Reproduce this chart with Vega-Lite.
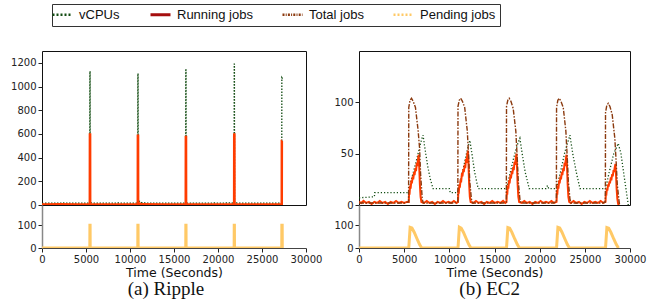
{
  "$schema": "https://vega.github.io/schema/vega-lite/v6.json",
  "padding": {"left": 10, "top": 3, "right": 1, "bottom": 1},
  "autosize": {"type": "pad"},
  "background": "white",
  "config": {
    "view": {"stroke": null},
    "axis": {"labelFont": "DejaVu Sans", "labelFontSize": 10, "labelColor": "#222", "titleFont": "DejaVu Sans", "titleFontSize": 12.5, "titleFontWeight": "normal", "titleColor": "#111", "tickColor": "#222", "grid": false, "domainColor": "#222", "labelFlush": false, "labelOverlap": false, "tickSize": 4, "labelPadding": 2, "format": "d"}
  },
  "datasets": {
    "a": [
      {"s":"vCPUs","t":0,"v":14},{"s":"vCPUs","t":800,"v":16},{"s":"vCPUs","t":1600,"v":15},{"s":"vCPUs","t":2400,"v":17},{"s":"vCPUs","t":3200,"v":15},{"s":"vCPUs","t":4000,"v":16},{"s":"vCPUs","t":4800,"v":15},{"s":"vCPUs","t":5430,"v":16},
      {"s":"vCPUs","t":5445,"v":1130},{"s":"vCPUs","t":5465,"v":1130},{"s":"vCPUs","t":5480,"v":18},{"s":"vCPUs","t":6200,"v":15},{"s":"vCPUs","t":7000,"v":16},{"s":"vCPUs","t":7800,"v":15},{"s":"vCPUs","t":8600,"v":17},{"s":"vCPUs","t":9400,"v":16},{"s":"vCPUs","t":10200,"v":15},{"s":"vCPUs","t":10880,"v":16},
      {"s":"vCPUs","t":10895,"v":1110},{"s":"vCPUs","t":10915,"v":1110},{"s":"vCPUs","t":10930,"v":25},{"s":"vCPUs","t":11100,"v":32},{"s":"vCPUs","t":11300,"v":20},{"s":"vCPUs","t":12000,"v":16},{"s":"vCPUs","t":12800,"v":15},{"s":"vCPUs","t":13600,"v":16},{"s":"vCPUs","t":14400,"v":15},{"s":"vCPUs","t":15200,"v":16},{"s":"vCPUs","t":16000,"v":15},{"s":"vCPUs","t":16330,"v":15},
      {"s":"vCPUs","t":16345,"v":1140},{"s":"vCPUs","t":16365,"v":1140},{"s":"vCPUs","t":16380,"v":15},{"s":"vCPUs","t":17200,"v":16},{"s":"vCPUs","t":18000,"v":15},{"s":"vCPUs","t":18800,"v":16},{"s":"vCPUs","t":19600,"v":17},{"s":"vCPUs","t":20400,"v":15},{"s":"vCPUs","t":21200,"v":18},{"s":"vCPUs","t":21830,"v":16},
      {"s":"vCPUs","t":21845,"v":1190},{"s":"vCPUs","t":21865,"v":1190},{"s":"vCPUs","t":21880,"v":18},{"s":"vCPUs","t":22600,"v":15},{"s":"vCPUs","t":23400,"v":16},{"s":"vCPUs","t":24200,"v":15},{"s":"vCPUs","t":25000,"v":16},{"s":"vCPUs","t":25800,"v":15},{"s":"vCPUs","t":26600,"v":16},{"s":"vCPUs","t":27240,"v":15},
      {"s":"vCPUs","t":27255,"v":1075},{"s":"vCPUs","t":27300,"v":1070},{"s":"vCPUs","t":27310,"v":1060},
      {"s":"Running jobs","t":0,"v":5},{"s":"Running jobs","t":2000,"v":6},{"s":"Running jobs","t":4000,"v":5},{"s":"Running jobs","t":5435,"v":5},{"s":"Running jobs","t":5445,"v":595},{"s":"Running jobs","t":5465,"v":595},{"s":"Running jobs","t":5475,"v":5},
      {"s":"Running jobs","t":8000,"v":5},{"s":"Running jobs","t":10885,"v":5},{"s":"Running jobs","t":10895,"v":585},{"s":"Running jobs","t":10915,"v":585},{"s":"Running jobs","t":10925,"v":9},{"s":"Running jobs","t":11100,"v":12},{"s":"Running jobs","t":11300,"v":6},
      {"s":"Running jobs","t":14000,"v":5},{"s":"Running jobs","t":16335,"v":5},{"s":"Running jobs","t":16345,"v":575},{"s":"Running jobs","t":16365,"v":575},{"s":"Running jobs","t":16375,"v":5},
      {"s":"Running jobs","t":19000,"v":5},{"s":"Running jobs","t":21835,"v":5},{"s":"Running jobs","t":21845,"v":595},{"s":"Running jobs","t":21865,"v":595},{"s":"Running jobs","t":21875,"v":5},
      {"s":"Running jobs","t":24500,"v":5},{"s":"Running jobs","t":27245,"v":5},{"s":"Running jobs","t":27255,"v":540},{"s":"Running jobs","t":27300,"v":540},
      {"s":"Pending jobs","t":0,"v":0},{"s":"Pending jobs","t":5435,"v":0},{"s":"Pending jobs","t":5445,"v":100},{"s":"Pending jobs","t":5465,"v":100},{"s":"Pending jobs","t":5475,"v":0},
      {"s":"Pending jobs","t":10885,"v":0},{"s":"Pending jobs","t":10895,"v":100},{"s":"Pending jobs","t":10915,"v":100},{"s":"Pending jobs","t":10925,"v":0},
      {"s":"Pending jobs","t":16335,"v":0},{"s":"Pending jobs","t":16345,"v":100},{"s":"Pending jobs","t":16365,"v":100},{"s":"Pending jobs","t":16375,"v":0},
      {"s":"Pending jobs","t":21835,"v":0},{"s":"Pending jobs","t":21845,"v":100},{"s":"Pending jobs","t":21865,"v":100},{"s":"Pending jobs","t":21875,"v":0},
      {"s":"Pending jobs","t":27245,"v":0},{"s":"Pending jobs","t":27255,"v":100},{"s":"Pending jobs","t":27295,"v":100},{"s":"Pending jobs","t":27305,"v":0}
    ],
    "b": [
      {"s":"vCPUs","t":0,"v":7},{"s":"vCPUs","t":1700,"v":8},{"s":"vCPUs","t":1740,"v":12},{"s":"vCPUs","t":5450,"v":12},{"s":"vCPUs","t":5510,"v":13},{"s":"vCPUs","t":5800,"v":25},{"s":"vCPUs","t":6200,"v":38},{"s":"vCPUs","t":6600,"v":52},{"s":"vCPUs","t":6900,"v":63},{"s":"vCPUs","t":7090,"v":68},{"s":"vCPUs","t":7300,"v":55},{"s":"vCPUs","t":7600,"v":38},{"s":"vCPUs","t":7900,"v":25},{"s":"vCPUs","t":8200,"v":16},
      {"s":"vCPUs","t":10000,"v":16},{"s":"vCPUs","t":10100,"v":12},{"s":"vCPUs","t":10900,"v":12},{"s":"vCPUs","t":11200,"v":22},{"s":"vCPUs","t":11600,"v":38},{"s":"vCPUs","t":12000,"v":54},{"s":"vCPUs","t":12270,"v":63},{"s":"vCPUs","t":12500,"v":50},{"s":"vCPUs","t":12800,"v":32},{"s":"vCPUs","t":13190,"v":16},
      {"s":"vCPUs","t":16330,"v":16},{"s":"vCPUs","t":16700,"v":30},{"s":"vCPUs","t":17100,"v":45},{"s":"vCPUs","t":17500,"v":58},{"s":"vCPUs","t":17810,"v":65},{"s":"vCPUs","t":18100,"v":48},{"s":"vCPUs","t":18400,"v":32},{"s":"vCPUs","t":18840,"v":16},
      {"s":"vCPUs","t":20700,"v":16},{"s":"vCPUs","t":20870,"v":19},{"s":"vCPUs","t":21000,"v":16},{"s":"vCPUs","t":21870,"v":16},{"s":"vCPUs","t":22300,"v":32},{"s":"vCPUs","t":22800,"v":52},{"s":"vCPUs","t":23350,"v":68},{"s":"vCPUs","t":23700,"v":48},{"s":"vCPUs","t":24100,"v":30},{"s":"vCPUs","t":24460,"v":16},
      {"s":"vCPUs","t":27300,"v":16},{"s":"vCPUs","t":27700,"v":32},{"s":"vCPUs","t":28200,"v":50},{"s":"vCPUs","t":28700,"v":60},{"s":"vCPUs","t":29000,"v":50},{"s":"vCPUs","t":29400,"v":25},{"s":"vCPUs","t":29810,"v":0},

      {"s":"Running jobs","t":0,"v":3},{"s":"Running jobs","t":250,"v":2},{"s":"Running jobs","t":500,"v":4},{"s":"Running jobs","t":800,"v":2},{"s":"Running jobs","t":1100,"v":3},{"s":"Running jobs","t":1400,"v":1},{"s":"Running jobs","t":1700,"v":3},{"s":"Running jobs","t":2000,"v":2},{"s":"Running jobs","t":2300,"v":4},{"s":"Running jobs","t":2600,"v":2},{"s":"Running jobs","t":2900,"v":3},{"s":"Running jobs","t":3200,"v":1},{"s":"Running jobs","t":3500,"v":3},{"s":"Running jobs","t":3800,"v":2},{"s":"Running jobs","t":4100,"v":4},{"s":"Running jobs","t":4400,"v":2},{"s":"Running jobs","t":4700,"v":3},{"s":"Running jobs","t":5000,"v":2},{"s":"Running jobs","t":5300,"v":3},
      {"s":"Running jobs","t":5510,"v":3},{"s":"Running jobs","t":5550,"v":14},{"s":"Running jobs","t":5590,"v":10},{"s":"Running jobs","t":5660,"v":19},{"s":"Running jobs","t":5710,"v":16},{"s":"Running jobs","t":5800,"v":24},{"s":"Running jobs","t":5850,"v":21},{"s":"Running jobs","t":5950,"v":28},{"s":"Running jobs","t":6000,"v":25},{"s":"Running jobs","t":6100,"v":32},{"s":"Running jobs","t":6150,"v":29},{"s":"Running jobs","t":6250,"v":36},{"s":"Running jobs","t":6310,"v":33},{"s":"Running jobs","t":6400,"v":41},{"s":"Running jobs","t":6450,"v":38},{"s":"Running jobs","t":6540,"v":45},{"s":"Running jobs","t":6610,"v":49},{"s":"Running jobs","t":6670,"v":37},{"s":"Running jobs","t":6740,"v":20},{"s":"Running jobs","t":6820,"v":8},{"s":"Running jobs","t":6910,"v":3},
      {"s":"Running jobs","t":7200,"v":2},{"s":"Running jobs","t":7500,"v":4},{"s":"Running jobs","t":7800,"v":2},{"s":"Running jobs","t":8100,"v":3},{"s":"Running jobs","t":8400,"v":1},{"s":"Running jobs","t":8700,"v":3},{"s":"Running jobs","t":9000,"v":2},{"s":"Running jobs","t":9300,"v":4},{"s":"Running jobs","t":9600,"v":2},{"s":"Running jobs","t":9900,"v":3},{"s":"Running jobs","t":10200,"v":2},{"s":"Running jobs","t":10500,"v":4},{"s":"Running jobs","t":10800,"v":2},
      {"s":"Running jobs","t":10960,"v":3},{"s":"Running jobs","t":11000,"v":15},{"s":"Running jobs","t":11040,"v":11},{"s":"Running jobs","t":11110,"v":20},{"s":"Running jobs","t":11160,"v":17},{"s":"Running jobs","t":11250,"v":25},{"s":"Running jobs","t":11300,"v":22},{"s":"Running jobs","t":11400,"v":31},{"s":"Running jobs","t":11450,"v":28},{"s":"Running jobs","t":11550,"v":35},{"s":"Running jobs","t":11600,"v":32},{"s":"Running jobs","t":11700,"v":39},{"s":"Running jobs","t":11760,"v":36},{"s":"Running jobs","t":11850,"v":45},{"s":"Running jobs","t":11900,"v":41},{"s":"Running jobs","t":11990,"v":49},{"s":"Running jobs","t":12060,"v":53},{"s":"Running jobs","t":12120,"v":40},{"s":"Running jobs","t":12190,"v":21},{"s":"Running jobs","t":12270,"v":8},{"s":"Running jobs","t":12360,"v":3},
      {"s":"Running jobs","t":12650,"v":2},{"s":"Running jobs","t":12950,"v":4},{"s":"Running jobs","t":13250,"v":2},{"s":"Running jobs","t":13550,"v":3},{"s":"Running jobs","t":13850,"v":1},{"s":"Running jobs","t":14150,"v":3},{"s":"Running jobs","t":14450,"v":2},{"s":"Running jobs","t":14750,"v":4},{"s":"Running jobs","t":15050,"v":2},{"s":"Running jobs","t":15350,"v":3},{"s":"Running jobs","t":15650,"v":2},{"s":"Running jobs","t":15950,"v":4},{"s":"Running jobs","t":16200,"v":2},
      {"s":"Running jobs","t":16330,"v":3},{"s":"Running jobs","t":16370,"v":14},{"s":"Running jobs","t":16410,"v":10},{"s":"Running jobs","t":16480,"v":19},{"s":"Running jobs","t":16530,"v":16},{"s":"Running jobs","t":16620,"v":24},{"s":"Running jobs","t":16670,"v":21},{"s":"Running jobs","t":16770,"v":29},{"s":"Running jobs","t":16820,"v":26},{"s":"Running jobs","t":16920,"v":33},{"s":"Running jobs","t":16970,"v":30},{"s":"Running jobs","t":17070,"v":37},{"s":"Running jobs","t":17130,"v":34},{"s":"Running jobs","t":17220,"v":42},{"s":"Running jobs","t":17270,"v":39},{"s":"Running jobs","t":17360,"v":46},{"s":"Running jobs","t":17430,"v":50},{"s":"Running jobs","t":17490,"v":38},{"s":"Running jobs","t":17560,"v":20},{"s":"Running jobs","t":17640,"v":8},{"s":"Running jobs","t":17730,"v":3},
      {"s":"Running jobs","t":18000,"v":2},{"s":"Running jobs","t":18300,"v":4},{"s":"Running jobs","t":18600,"v":2},{"s":"Running jobs","t":18900,"v":3},{"s":"Running jobs","t":19200,"v":1},{"s":"Running jobs","t":19500,"v":3},{"s":"Running jobs","t":19800,"v":2},{"s":"Running jobs","t":20100,"v":4},{"s":"Running jobs","t":20400,"v":2},{"s":"Running jobs","t":20700,"v":3},{"s":"Running jobs","t":21000,"v":2},{"s":"Running jobs","t":21300,"v":4},{"s":"Running jobs","t":21600,"v":2},
      {"s":"Running jobs","t":21870,"v":3},{"s":"Running jobs","t":21910,"v":14},{"s":"Running jobs","t":21950,"v":10},{"s":"Running jobs","t":22020,"v":19},{"s":"Running jobs","t":22070,"v":16},{"s":"Running jobs","t":22160,"v":24},{"s":"Running jobs","t":22210,"v":21},{"s":"Running jobs","t":22310,"v":28},{"s":"Running jobs","t":22360,"v":25},{"s":"Running jobs","t":22460,"v":32},{"s":"Running jobs","t":22510,"v":29},{"s":"Running jobs","t":22610,"v":36},{"s":"Running jobs","t":22670,"v":33},{"s":"Running jobs","t":22760,"v":41},{"s":"Running jobs","t":22810,"v":38},{"s":"Running jobs","t":22900,"v":45},{"s":"Running jobs","t":22970,"v":49},{"s":"Running jobs","t":23030,"v":37},{"s":"Running jobs","t":23100,"v":20},{"s":"Running jobs","t":23180,"v":8},{"s":"Running jobs","t":23270,"v":3},
      {"s":"Running jobs","t":23450,"v":2},{"s":"Running jobs","t":23750,"v":4},{"s":"Running jobs","t":24050,"v":2},{"s":"Running jobs","t":24350,"v":3},{"s":"Running jobs","t":24650,"v":1},{"s":"Running jobs","t":24950,"v":3},{"s":"Running jobs","t":25250,"v":2},{"s":"Running jobs","t":25550,"v":4},{"s":"Running jobs","t":25850,"v":2},{"s":"Running jobs","t":26150,"v":3},{"s":"Running jobs","t":26450,"v":2},{"s":"Running jobs","t":26750,"v":4},{"s":"Running jobs","t":27050,"v":2},
      {"s":"Running jobs","t":27290,"v":3},{"s":"Running jobs","t":27330,"v":12},{"s":"Running jobs","t":27370,"v":9},{"s":"Running jobs","t":27440,"v":16},{"s":"Running jobs","t":27490,"v":14},{"s":"Running jobs","t":27580,"v":20},{"s":"Running jobs","t":27630,"v":18},{"s":"Running jobs","t":27730,"v":23},{"s":"Running jobs","t":27780,"v":21},{"s":"Running jobs","t":27880,"v":27},{"s":"Running jobs","t":27930,"v":24},{"s":"Running jobs","t":28030,"v":30},{"s":"Running jobs","t":28090,"v":28},{"s":"Running jobs","t":28180,"v":34},{"s":"Running jobs","t":28230,"v":32},{"s":"Running jobs","t":28320,"v":37},{"s":"Running jobs","t":28390,"v":40},{"s":"Running jobs","t":28450,"v":30},{"s":"Running jobs","t":28520,"v":16},{"s":"Running jobs","t":28600,"v":6},{"s":"Running jobs","t":28690,"v":1},{"s":"Running jobs","t":28800,"v":0},

      {"s":"Total jobs","t":0,"v":2},{"s":"Total jobs","t":1000,"v":2},{"s":"Total jobs","t":2000,"v":2},{"s":"Total jobs","t":3000,"v":2},{"s":"Total jobs","t":4000,"v":2},{"s":"Total jobs","t":5000,"v":2},{"s":"Total jobs","t":5490,"v":3},
      {"s":"Total jobs","t":5510,"v":95},{"s":"Total jobs","t":5650,"v":102},{"s":"Total jobs","t":5810,"v":104},{"s":"Total jobs","t":6000,"v":101},{"s":"Total jobs","t":6250,"v":95},{"s":"Total jobs","t":6540,"v":73},{"s":"Total jobs","t":6710,"v":55},{"s":"Total jobs","t":6820,"v":30},{"s":"Total jobs","t":7000,"v":6},{"s":"Total jobs","t":7110,"v":2},
      {"s":"Total jobs","t":7500,"v":2},{"s":"Total jobs","t":8500,"v":2},{"s":"Total jobs","t":9500,"v":2},{"s":"Total jobs","t":10500,"v":2},{"s":"Total jobs","t":10940,"v":3},
      {"s":"Total jobs","t":10960,"v":96},{"s":"Total jobs","t":11100,"v":102},{"s":"Total jobs","t":11260,"v":104},{"s":"Total jobs","t":11450,"v":101},{"s":"Total jobs","t":11700,"v":95},{"s":"Total jobs","t":11990,"v":72},{"s":"Total jobs","t":12150,"v":45},{"s":"Total jobs","t":12260,"v":23},{"s":"Total jobs","t":12440,"v":6},{"s":"Total jobs","t":12560,"v":2},
      {"s":"Total jobs","t":13000,"v":2},{"s":"Total jobs","t":14000,"v":2},{"s":"Total jobs","t":15000,"v":2},{"s":"Total jobs","t":16000,"v":2},{"s":"Total jobs","t":16310,"v":3},
      {"s":"Total jobs","t":16330,"v":96},{"s":"Total jobs","t":16470,"v":102},{"s":"Total jobs","t":16630,"v":104},{"s":"Total jobs","t":16820,"v":101},{"s":"Total jobs","t":17070,"v":94},{"s":"Total jobs","t":17360,"v":72},{"s":"Total jobs","t":17520,"v":45},{"s":"Total jobs","t":17630,"v":23},{"s":"Total jobs","t":17810,"v":6},{"s":"Total jobs","t":17930,"v":2},
      {"s":"Total jobs","t":18500,"v":2},{"s":"Total jobs","t":19500,"v":2},{"s":"Total jobs","t":20500,"v":2},{"s":"Total jobs","t":21500,"v":2},{"s":"Total jobs","t":21850,"v":3},
      {"s":"Total jobs","t":21870,"v":95},{"s":"Total jobs","t":22010,"v":102},{"s":"Total jobs","t":22170,"v":104},{"s":"Total jobs","t":22360,"v":101},{"s":"Total jobs","t":22610,"v":95},{"s":"Total jobs","t":22900,"v":72},{"s":"Total jobs","t":23060,"v":45},{"s":"Total jobs","t":23170,"v":23},{"s":"Total jobs","t":23350,"v":6},{"s":"Total jobs","t":23470,"v":2},
      {"s":"Total jobs","t":24000,"v":2},{"s":"Total jobs","t":25000,"v":2},{"s":"Total jobs","t":26000,"v":2},{"s":"Total jobs","t":27000,"v":2},{"s":"Total jobs","t":27270,"v":3},
      {"s":"Total jobs","t":27290,"v":90},{"s":"Total jobs","t":27430,"v":97},{"s":"Total jobs","t":27590,"v":99},{"s":"Total jobs","t":27780,"v":96},{"s":"Total jobs","t":28030,"v":88},{"s":"Total jobs","t":28320,"v":65},{"s":"Total jobs","t":28480,"v":40},{"s":"Total jobs","t":28590,"v":20},{"s":"Total jobs","t":28770,"v":5},{"s":"Total jobs","t":28850,"v":0},

      {"s":"Pending jobs","t":0,"v":0},{"s":"Pending jobs","t":5510,"v":0},{"s":"Pending jobs","t":5660,"v":91},{"s":"Pending jobs","t":5860,"v":88},{"s":"Pending jobs","t":6110,"v":70},{"s":"Pending jobs","t":6410,"v":42},{"s":"Pending jobs","t":6710,"v":15},{"s":"Pending jobs","t":6940,"v":0},
      {"s":"Pending jobs","t":10960,"v":0},{"s":"Pending jobs","t":11110,"v":92},{"s":"Pending jobs","t":11310,"v":88},{"s":"Pending jobs","t":11560,"v":70},{"s":"Pending jobs","t":11860,"v":42},{"s":"Pending jobs","t":12160,"v":15},{"s":"Pending jobs","t":12390,"v":0},
      {"s":"Pending jobs","t":16330,"v":0},{"s":"Pending jobs","t":16480,"v":90},{"s":"Pending jobs","t":16680,"v":87},{"s":"Pending jobs","t":16930,"v":69},{"s":"Pending jobs","t":17230,"v":41},{"s":"Pending jobs","t":17530,"v":15},{"s":"Pending jobs","t":17760,"v":0},
      {"s":"Pending jobs","t":21870,"v":0},{"s":"Pending jobs","t":22020,"v":91},{"s":"Pending jobs","t":22220,"v":88},{"s":"Pending jobs","t":22470,"v":70},{"s":"Pending jobs","t":22770,"v":42},{"s":"Pending jobs","t":23070,"v":15},{"s":"Pending jobs","t":23300,"v":0},
      {"s":"Pending jobs","t":27290,"v":0},{"s":"Pending jobs","t":27440,"v":90},{"s":"Pending jobs","t":27640,"v":87},{"s":"Pending jobs","t":27890,"v":69},{"s":"Pending jobs","t":28190,"v":41},{"s":"Pending jobs","t":28490,"v":15},{"s":"Pending jobs","t":28720,"v":0}
    ]
  },
  "spacing": 11,
  "hconcat": [
    {
      "bounds": "flush",
      "spacing": 0,
      "title": {"text": "(a) Ripple", "orient": "bottom", "anchor": "middle", "font": "Liberation Serif", "fontSize": 19, "fontWeight": "normal", "color": "#111", "offset": 1},
      "vconcat": [
        {
          "width": 264, "height": 154,
          "view": {"stroke": "#111", "strokeWidth": 1},
          "data": {"name": "a"},
          "encoding": {
            "x": {"field": "t", "type": "quantitative", "scale": {"domain": [0, 30000], "nice": false}, "axis": null},
            "y": {"field": "v", "type": "quantitative", "scale": {"domain": [0, 1300], "nice": false}, "axis": {"values": [0, 200, 400, 600, 800, 1000, 1200], "domain": false, "title": null}},
            "color": {"field": "s", "type": "nominal", "scale": {"domain": ["vCPUs", "Running jobs", "Total jobs", "Pending jobs"], "range": ["#134d13", "#a50e0e", "#8b3a0f", "#ffc966"]},
              "legend": {"title": null, "orient": "none", "legendX": 10, "legendY": -47, "direction": "horizontal", "columns": 4, "symbolType": "stroke", "symbolSize": 400, "labelFont": "Liberation Sans", "labelFontSize": 13, "labelColor": "#111", "labelOffset": 10, "columnPadding": 24, "padding": 4, "strokeColor": "#333", "fillColor": "white",
                "encode": {"symbols": {"update": {
                  "strokeDash": {"signal": "datum.value === 'Running jobs' ? [1, 0] : datum.value === 'Total jobs' ? [2, 1.2, 1, 1.2] : [2, 2]"},
                  "strokeWidth": {"signal": "datum.value === 'Running jobs' ? 3 : 2.5"}
                }}}}}
          },
          "layer": [
            {"transform": [{"filter": "datum.s === 'vCPUs'"}], "mark": {"type": "line", "strokeDash": [1.5, 1.5], "strokeWidth": 1.3, "clip": true}},
            {"transform": [{"filter": "datum.s === 'Running jobs'"}], "mark": {"type": "line", "strokeWidth": 2.5, "clip": true}, "encoding": {"color": {"value": "#ff3c00"}}}
          ]
        },
        {
          "width": 264, "height": 43,
          "data": {"name": "a"},
          "transform": [{"filter": "datum.s === 'Pending jobs'"}],
          "mark": {"type": "line", "strokeWidth": 3, "clip": true},
          "encoding": {
            "x": {"field": "t", "type": "quantitative", "scale": {"domain": [0, 30000], "nice": false}, "axis": {"values": [0, 5000, 10000, 15000, 20000, 25000, 30000], "title": "Time (Seconds)", "titlePadding": 2, "domainColor": "#444"}},
            "y": {"field": "v", "type": "quantitative", "scale": {"domain": [0, 190], "nice": false}, "axis": {"values": [0, 100], "title": null, "domainColor": "#888", "domainWidth": 1.5}},
            "color": {"field": "s", "type": "nominal", "scale": {"domain": ["vCPUs", "Running jobs", "Total jobs", "Pending jobs"], "range": ["#134d13", "#a50e0e", "#8b3a0f", "#ffc966"]}}
          }
        }
      ]
    },
    {
      "bounds": "flush",
      "spacing": 0,
      "title": {"text": "(b) EC2", "orient": "bottom", "anchor": "middle", "font": "Liberation Serif", "fontSize": 19, "fontWeight": "normal", "color": "#111", "offset": 1},
      "vconcat": [
        {
          "width": 271, "height": 154,
          "view": {"stroke": "#111", "strokeWidth": 1},
          "data": {"name": "b"},
          "encoding": {
            "x": {"field": "t", "type": "quantitative", "scale": {"domain": [0, 30000], "nice": false}, "axis": null},
            "y": {"field": "v", "type": "quantitative", "scale": {"domain": [0, 150], "nice": false}, "axis": {"values": [0, 50, 100], "domain": false, "title": null}},
            "color": {"field": "s", "type": "nominal", "scale": {"domain": ["vCPUs", "Running jobs", "Total jobs", "Pending jobs"], "range": ["#134d13", "#a50e0e", "#8b3a0f", "#ffc966"]}}
          },
          "layer": [
            {"transform": [{"filter": "datum.s === 'vCPUs'"}], "mark": {"type": "line", "strokeDash": [1.2, 2], "strokeWidth": 1.3, "clip": true}},
            {"transform": [{"filter": "datum.s === 'Running jobs'"}], "mark": {"type": "line", "strokeWidth": 2, "clip": true}, "encoding": {"color": {"value": "#ff3c00"}}},
            {"transform": [{"filter": "datum.s === 'Total jobs'"}], "mark": {"type": "line", "strokeDash": [5, 1.5, 1.5, 1.5], "strokeWidth": 1.4, "clip": true}}
          ]
        },
        {
          "width": 271, "height": 43,
          "data": {"name": "b"},
          "transform": [{"filter": "datum.s === 'Pending jobs'"}],
          "mark": {"type": "line", "strokeWidth": 3, "clip": true},
          "encoding": {
            "x": {"field": "t", "type": "quantitative", "scale": {"domain": [0, 30000], "nice": false}, "axis": {"values": [0, 5000, 10000, 15000, 20000, 25000, 30000], "title": "Time (Seconds)", "titlePadding": 2, "domainColor": "#444"}},
            "y": {"field": "v", "type": "quantitative", "scale": {"domain": [0, 190], "nice": false}, "axis": {"values": [0, 100], "title": null, "domainColor": "#888", "domainWidth": 1.5}},
            "color": {"field": "s", "type": "nominal", "scale": {"domain": ["vCPUs", "Running jobs", "Total jobs", "Pending jobs"], "range": ["#134d13", "#a50e0e", "#8b3a0f", "#ffc966"]}}
          }
        }
      ]
    }
  ]
}
